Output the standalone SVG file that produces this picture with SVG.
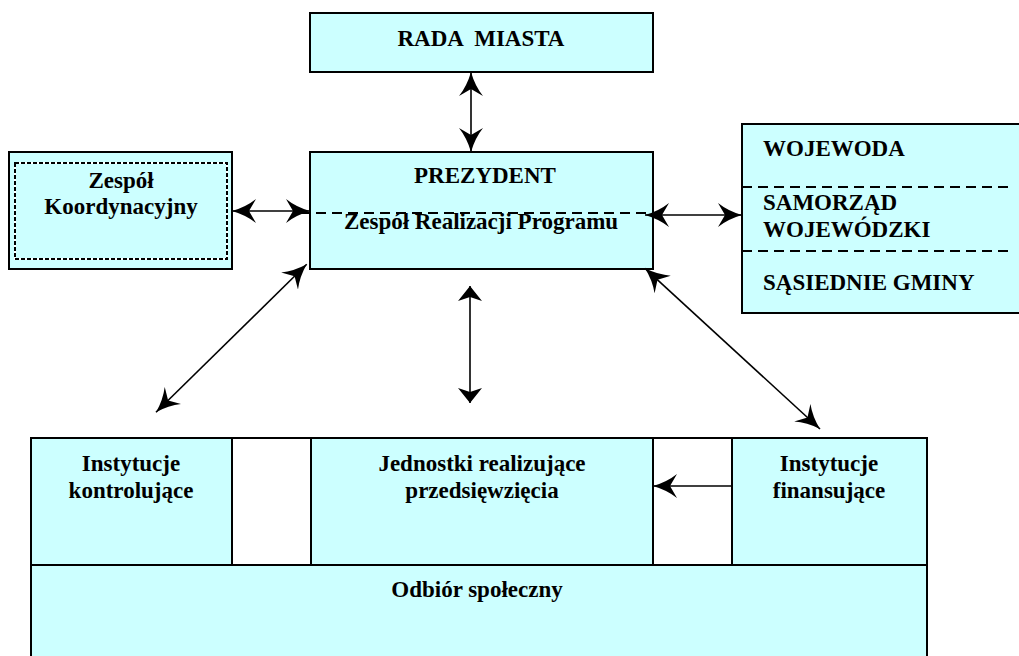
<svg xmlns="http://www.w3.org/2000/svg" width="1019" height="656" viewBox="0 0 1019 656">
<style>
.box{fill:#CCFFFF;stroke:#000;stroke-width:2}
.gap{fill:#FFFFFF;stroke:#000;stroke-width:2}
.t{font-family:"Liberation Serif","Times New Roman",serif;font-weight:bold;font-size:23px;fill:#000}
.c{text-anchor:middle}
.dash{stroke:#000;stroke-width:1.8;stroke-dasharray:10 6;fill:none}
.con{stroke:#000;stroke-width:1.6;fill:none}
</style>
<defs>
<marker id="ah" markerUnits="userSpaceOnUse" markerWidth="24" markerHeight="24" viewBox="0 0 24 24" refX="24" refY="12" orient="auto-start-reverse">
<path d="M24,12 Q10,8 0,0 L7,12 L0,24 Q10,16 24,12 Z" fill="#000"/>
</marker>
<marker id="ahs" markerUnits="userSpaceOnUse" markerWidth="15" markerHeight="24" viewBox="0 0 15 24" refX="15" refY="12" orient="auto-start-reverse">
<path d="M15,12 L0,0 L4,12 L0,24 Z" fill="#000"/>
</marker>
</defs>

<g id="rada">
<rect class="box" x="310" y="13" width="343" height="59"/>
<text class="t c" x="481" y="46" xml:space="preserve">RADA  MIASTA</text>
</g>

<g id="prezydent">
<rect class="box" x="310" y="152" width="343" height="117"/>
<text class="t c" x="485" y="183">PREZYDENT</text>
<line class="dash" x1="300" y1="213" x2="656" y2="213"/>
<text class="t c" x="481" y="229">Zespół Realizacji Programu</text>
</g>

<g id="koordynacyjny">
<rect class="box" x="9" y="152" width="223" height="117"/>
<rect x="15" y="163" width="212" height="96" fill="none" stroke="#fff" stroke-width="2"/>
<rect x="15" y="163" width="212" height="96" fill="none" stroke="#000" stroke-width="2" stroke-dasharray="4 2"/>
<text class="t c" x="121" y="188">Zespół</text>
<text class="t c" x="121" y="214">Koordynacyjny</text>
</g>

<g id="wojewoda">
<rect class="box" x="742" y="124" width="300" height="189"/>
<line class="dash" x1="742" y1="187" x2="1013" y2="187"/>
<line class="dash" x1="742" y1="251" x2="1013" y2="251"/>
<text class="t" x="763" y="156">WOJEWODA</text>
<text class="t" x="763" y="210">SAMORZĄD</text>
<text class="t" x="763" y="237">WOJEWÓDZKI</text>
<text class="t" x="763" y="290">SĄSIEDNIE GMINY</text>
</g>

<g id="gaps">
<rect class="gap" x="232" y="438" width="79" height="127"/>
<rect class="gap" x="653" y="438" width="79" height="127"/>
</g>

<g id="kontrolujace">
<rect class="box" x="31" y="438" width="201" height="127"/>
<text class="t c" x="131" y="471">Instytucje</text>
<text class="t c" x="131" y="498">kontrolujące</text>
</g>

<g id="jednostki">
<rect class="box" x="311" y="438" width="342" height="127"/>
<text class="t c" x="482" y="471">Jednostki realizujące</text>
<text class="t c" x="482" y="498">przedsięwzięcia</text>
</g>

<g id="finansujace">
<rect class="box" x="732" y="438" width="195" height="127"/>
<text class="t c" x="829" y="471">Instytucje</text>
<text class="t c" x="829" y="498">finansujące</text>
</g>

<g id="odbior">
<rect class="box" x="31" y="565" width="896" height="110"/>
<text class="t c" x="477" y="597">Odbiór społeczny</text>
</g>

<g id="connectors">
<line class="con" x1="471" y1="72" x2="471" y2="152" marker-start="url(#ah)" marker-end="url(#ah)"/>
<line class="con" x1="232" y1="211" x2="310" y2="211" marker-start="url(#ah)" marker-end="url(#ah)"/>
<line class="con" x1="645" y1="215" x2="742" y2="215" marker-start="url(#ah)" marker-end="url(#ah)"/>
<line class="con" x1="470" y1="286" x2="470" y2="403" marker-start="url(#ahs)" marker-end="url(#ahs)"/>
<line class="con" x1="306.7" y1="264.3" x2="156" y2="412.3" marker-start="url(#ah)" marker-end="url(#ah)"/>
<line class="con" x1="645" y1="268.3" x2="820" y2="429" marker-start="url(#ah)" marker-end="url(#ah)"/>
<line class="con" x1="732" y1="486" x2="653" y2="486" marker-end="url(#ah)"/>
</g>
</svg>
